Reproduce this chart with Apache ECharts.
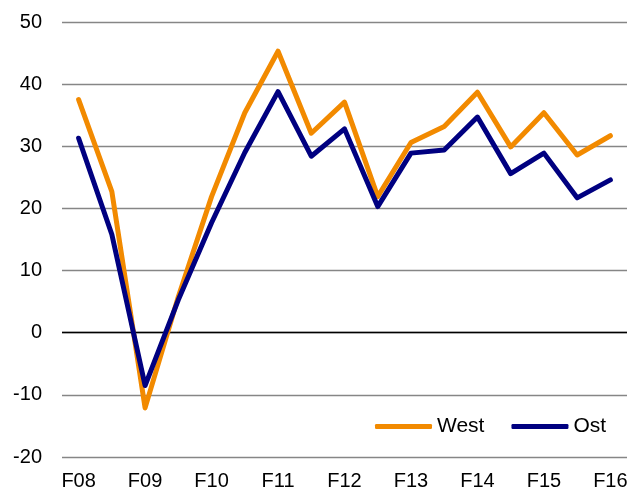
<!DOCTYPE html>
<html>
<head>
<meta charset="utf-8">
<script src="https://cdn.jsdelivr.net/npm/echarts@6/dist/echarts.min.js"></script>
<style>
html, body { margin: 0; padding: 0; background: #fff; }
#chart { width: 631px; height: 492px; }
</style>
</head>
<body>
<div id="chart"></div>
<script>
// Halbjahre, beschriftet wird nur jedes zweite
var categories = ['F08', 'H08', 'F09', 'H09', 'F10', 'H10', 'F11', 'H11', 'F12', 'H12',
                  'F13', 'H13', 'F14', 'H14', 'F15', 'H15', 'F16'];
var west = [37.5, 22.7, -12.1, 5.8, 21.9, 35.4, 45.3, 32.1, 37.1, 21.9, 30.6, 33.2, 38.7, 29.9, 35.4, 28.6, 31.7];
var ost  = [31.3, 15.8, -8.5, 5.3, 17.7, 29.0, 38.8, 28.4, 32.8, 20.3, 28.9, 29.4, 34.7, 25.6, 28.9, 21.7, 24.6];
var seriesNames = ['West', 'Ost'];
var yMin = -20, yMax = 50, yStep = 10;

var chart = echarts.init(document.getElementById('chart'));
var font = 'Liberation Sans, Arial, sans-serif';

var option = {
    animation: false,
    grid: { left: 62, right: 4, top: 22, bottom: 35 },
    legend: {
        data: seriesNames,
        left: 370,
        top: 411,
        icon: 'roundRect',
        itemWidth: 57,
        itemHeight: 5,
        itemGap: 27,
        textStyle: { fontFamily: font, fontSize: 21, color: '#000' }
    },
    xAxis: {
        type: 'category',
        data: categories,
        boundaryGap: true,
        axisLine: { show: false },
        axisTick: { show: false },
        axisLabel: { interval: 1, margin: 14, fontFamily: font, fontSize: 20, color: '#000' }
    },
    yAxis: {
        type: 'value',
        min: yMin,
        max: yMax,
        interval: yStep,
        axisLine: { show: false },
        axisTick: { show: false },
        axisLabel: { margin: 20, fontFamily: font, fontSize: 20, color: '#000' },
        splitLine: { lineStyle: { color: '#868686', width: 1.3 } }
    },
    series: [{
        name: seriesNames[0],
        type: 'line',
        data: west,
        symbol: 'none',
        color: '#F28A00',
        lineStyle: { width: 5, cap: 'round', join: 'round' },
        z: 3,
        markLine: {
            silent: true,
            symbol: 'none',
            label: { show: false },
            lineStyle: { color: '#000', type: 'solid', width: 1.3 },
            data: [{ yAxis: 0 }],
            z: 1
        }
    }, {
        name: seriesNames[1],
        type: 'line',
        data: ost,
        symbol: 'none',
        color: '#000080',
        lineStyle: { width: 5, cap: 'round', join: 'round' },
        z: 4
    }]
};
chart.setOption(option);
</script>
</body>
</html>
